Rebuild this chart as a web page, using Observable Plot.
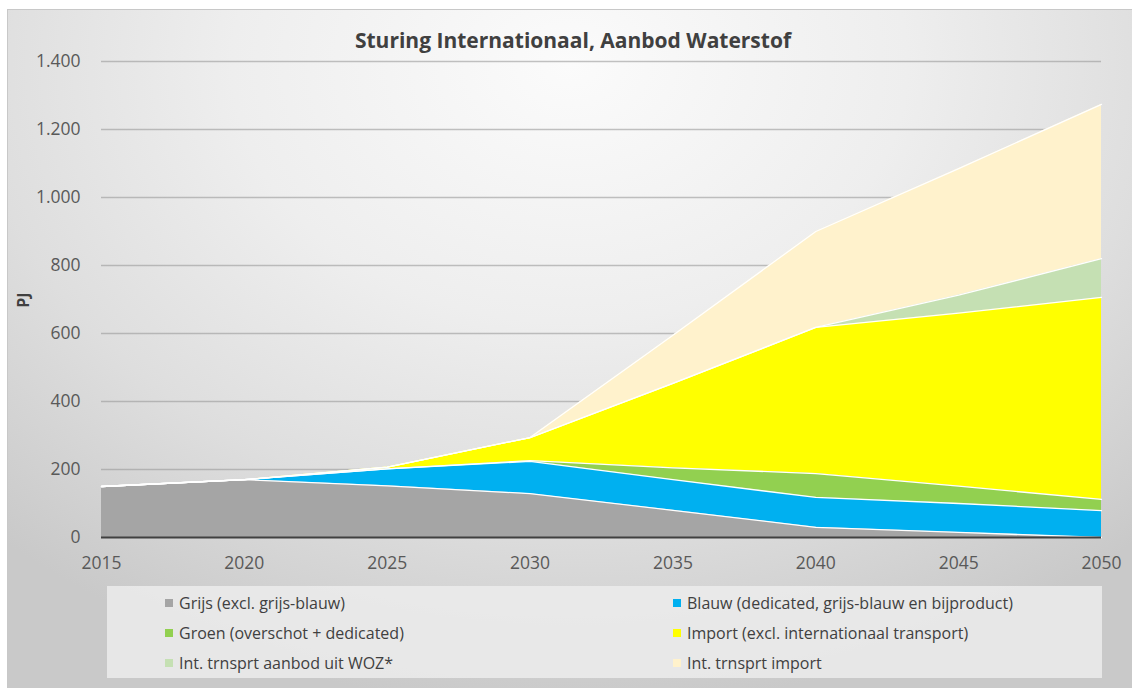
<!DOCTYPE html>
<html>
<head>
<meta charset="utf-8">
<script src="https://cdn.jsdelivr.net/npm/d3@7"></script>
<script src="https://cdn.jsdelivr.net/npm/@observablehq/plot@0.6"></script>
<style>
  html, body { margin: 0; padding: 0; background: #fff; width: 1132px; height: 688px; overflow: hidden; }
  #frame { position: absolute; left: 7px; top: 9px; width: 1125px; height: 679px;
    border-top: 1px solid #c8c8c8; border-left: 1px solid #c8c8c8; box-sizing: border-box;
    background: radial-gradient(ellipse 75% 95% at 50% 8%, #fbfbfb 0%, #eeeeee 40%, #dedede 70%, #c9c9c9 100%); }
  #chart { position: absolute; left: 0; top: 0; }
  #title { position: absolute; left: 0; width: 1146px; top: 26px; text-align: center;
    font: bold 21px "Open Sans", sans-serif; color: #404040; }
  #ylab { position: absolute; left: 13px; top: 289px; transform: rotate(-90deg); transform-origin: center;
    font: bold 16px "Open Sans", sans-serif; color: #404040; width: 20px; text-align: center; }
  #legend { position: absolute; left: 107px; top: 586px; width: 995px; height: 92px; background: rgba(236,236,236,0.85);
    font: 16px "Open Sans", sans-serif; color: #404040; }
  .item { position: absolute; display: flex; align-items: center; white-space: nowrap; }
  .sw { width: 8px; height: 8px; margin-right: 6px; }
</style>
</head>
<body>
<div id="frame"></div>
<div id="chart"></div>
<div id="title">Sturing Internationaal, Aanbod Waterstof</div>
<div id="ylab">PJ</div>
<div id="legend"></div>
<script>
const years = [2015, 2020, 2025, 2030, 2035, 2040, 2045, 2050];
const seriesNames = [
  "Grijs (excl. grijs-blauw)",
  "Blauw (dedicated, grijs-blauw en bijproduct)",
  "Groen (overschot + dedicated)",
  "Import (excl. internationaal transport)",
  "Int. trnsprt aanbod uit WOZ*",
  "Int. trnsprt import"
];
const grijs  = [150, 170, 152, 129,  80,  30,  15,   0];
const blauw  = [  0,   0,  50,  95,  90,  88,  85,  79];
const groen  = [  0,   0,   0,   2,  35,  70,  51,  33];
const imp    = [  0,   0,   5,  68, 248, 430, 509, 594];
const woz    = [  0,   0,   0,   0,   0,   0,  53, 114];
const intImp = [  0,   0,   0,   0, 142, 282, 372, 454];
const colors = ["#a5a5a5", "#00b0f0", "#92d050", "#ffff00", "#c5e0b3", "#fff2cc"];
const yTicks = [0, 200, 400, 600, 800, 1000, 1200, 1400];

const valuesBySeries = [grijs, blauw, groen, imp, woz, intImp];
const data = [];
seriesNames.forEach((s, i) => years.forEach((y, j) => data.push({year: y, series: s, value: valuesBySeries[i][j]})));

const nl = d3.formatLocale({decimal: ",", thousands: ".", grouping: [3], currency: ["€", ""]});
const fmt = nl.format(",");

const chart = Plot.plot({
  width: 1132,
  height: 580,
  marginLeft: 101,
  marginRight: 31,
  marginTop: 61,
  marginBottom: 43,
  style: {background: "transparent", fontFamily: "Open Sans, sans-serif", fontSize: "17.5px", color: "#595959"},
  x: {domain: [2015, 2050], ticks: years, tickFormat: d => String(d), tickSize: 0, tickPadding: 19, label: null},
  y: {domain: [0, 1400], ticks: yTicks, tickFormat: fmt, tickSize: 0, tickPadding: 21, label: null},
  color: {domain: seriesNames, range: colors},
  marks: [
    Plot.ruleY(yTicks.filter(d => d > 0), {stroke: "#9a9a9a", strokeOpacity: 0.6, strokeWidth: 1.3}),
    Plot.areaY(data, Plot.stackY({x: "year", y: "value", z: "series", fill: "series", order: seriesNames})),
    Plot.lineY(data, Plot.stackY2({x: "year", y: "value", z: "series", order: seriesNames, stroke: "white", strokeWidth: 1.3})),
    Plot.ruleY([0], {stroke: "#404040", strokeWidth: 2})
  ]
});
document.getElementById("chart").appendChild(chart);

const legend = document.getElementById("legend");
const pos = [[58, 17], [566, 17], [58, 47], [566, 47], [58, 77], [566, 77]];
seriesNames.forEach((s, i) => {
  const it = document.createElement("div");
  it.className = "item";
  it.style.left = pos[i][0] + "px";
  it.style.top = (pos[i][1] - 11) + "px";
  it.style.height = "22px";
  it.innerHTML = `<span class="sw" style="background:${colors[i]}"></span><span>${s}</span>`;
  legend.appendChild(it);
});
</script>
</body>
</html>
